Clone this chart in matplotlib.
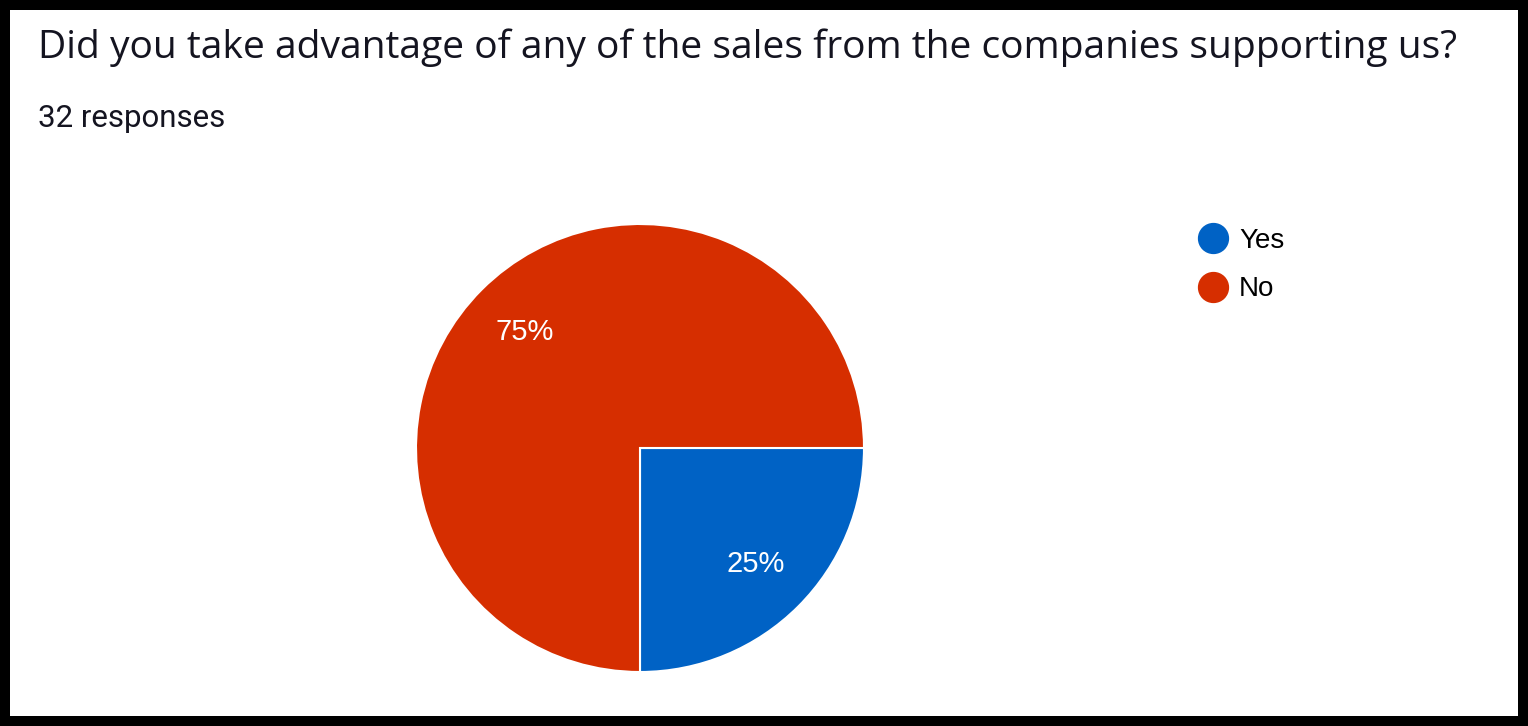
import matplotlib.pyplot as plt
from matplotlib.lines import Line2D
from matplotlib.patches import Rectangle

title = "Did you take advantage of any of the sales from the companies supporting us?"
subtitle = "32 responses"
labels = ["Yes", "No"]
counts = [8, 24]
colors = ["#0062C5", "#D62E00"]

W, H = 1528, 726
fig = plt.figure(figsize=(W / 100, H / 100), dpi=100, facecolor="black")

# white card inside the black frame
fig.patches.append(Rectangle((10 / W, 10 / H), (W - 20) / W, (H - 20) / H,
                             transform=fig.transFigure, facecolor="white",
                             edgecolor="none", zorder=-10))

fig.text(38 / W, 1 - 58 / H, title, fontsize=28.1, family="Open Sans",
         color="#141420", va="baseline", ha="left")
fig.text(38 / W, 1 - 127 / H, subtitle, fontsize=22.5, family="Roboto",
         color="#141420", va="baseline", ha="left")

cx, cy, r = 640, 448, 224
ax = fig.add_axes([(cx - r) / W, 1 - (cy + r) / H, 2 * r / W, 2 * r / H])
wedges, _, autotexts = ax.pie(
    counts, colors=colors, startangle=0, counterclock=False,
    autopct="%1.0f%%", pctdistance=0.73,
    wedgeprops=dict(edgecolor="white", linewidth=1.5),
    textprops=dict(color="white", fontsize=21, family="Liberation Sans"))
ax.set_xlim(-1, 1)
ax.set_ylim(-1, 1)
ax.set_aspect("equal")

handles = [Line2D([], [], marker="o", linestyle="none", markersize=21.5,
                  markerfacecolor=c, markeredgecolor=c) for c in colors]
fig.legend(handles, labels, loc="upper left",
           bbox_to_anchor=(1196 / W, 1 - 228 / H), frameon=False,
           prop=dict(family="Liberation Sans", size=20),
           labelspacing=0.8, handletextpad=0.35, handlelength=1.2,
           borderaxespad=0, borderpad=0)

fig.savefig("out.png", dpi=100, facecolor=fig.get_facecolor())
